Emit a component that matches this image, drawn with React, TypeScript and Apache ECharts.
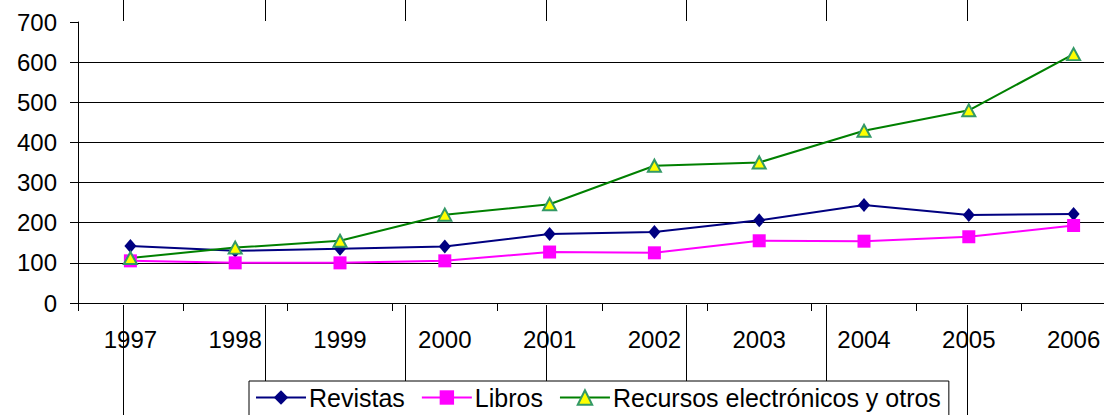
import React, { useEffect, useRef } from "react";
import * as echarts from "echarts";

const years = ["1997", "1998", "1999", "2000", "2001", "2002", "2003", "2004", "2005", "2006"];
const revistas = [142, 130, 135, 141, 172, 177, 206, 244, 219, 222];
const libros = [105, 100, 100, 105, 127, 125, 155, 154, 165, 193];
const recursos = [112, 138, 155, 220, 246, 342, 350, 429, 480, 620];
const yTicks = { min: 0, max: 700, interval: 100 };

const topLinesX = [123, 265, 405, 546, 686, 826, 967];
const FONT = "Liberation Sans, Arial, sans-serif";

export default function App() {
  const ref = useRef<HTMLDivElement>(null);
  useEffect(() => {
    if (!ref.current) return;
    const chart = echarts.init(ref.current, undefined, { renderer: "svg" });
    const graphics: any[] = [];
    topLinesX.forEach((x) => {
      graphics.push({ type: "line", z: 100, shape: { x1: x + 0.5, y1: 0, x2: x + 0.5, y2: 21 }, style: { stroke: "#000", lineWidth: 1 } });
      const long = x === 123 || x === 967;
      graphics.push({ type: "line", z: 100, shape: { x1: x + 0.5, y1: 305, x2: x + 0.5, y2: long ? 415 : 381 }, style: { stroke: "#000", lineWidth: 1 } });
    });
    chart.setOption({
      animation: false,
      textStyle: { fontFamily: FONT },
      grid: { left: 78, top: 22, height: 281, width: 1048, containLabel: false },
      legend: {
        left: 249,
        top: 381,
        padding: [4, 8, 12, 6],
        borderColor: "#000",
        borderWidth: 1,
        itemWidth: 50,
        itemHeight: 18,
        itemGap: 16,
        textStyle: { fontSize: 25, color: "#000", fontFamily: FONT, padding: [0, 0, 0, -2] },
        data: ["Revistas", "Libros", "Recursos electrónicos y otros"],
      },
      xAxis: {
        type: "category",
        data: years,
        boundaryGap: true,
        axisLine: { lineStyle: { color: "#000", width: 1 } },
        axisTick: { show: true, length: 8, lineStyle: { color: "#000" } },
        axisLabel: { fontSize: 24, color: "#000", margin: 24, fontFamily: FONT },
        splitLine: { show: false },
      },
      yAxis: {
        type: "value",
        min: yTicks.min,
        max: yTicks.max,
        interval: yTicks.interval,
        axisLine: { show: true, lineStyle: { color: "#000", width: 1 } },
        axisTick: { show: true, length: 8, lineStyle: { color: "#000" } },
        axisLabel: { fontSize: 24, color: "#000", margin: 21, fontFamily: FONT },
        splitLine: {
          show: true,
          lineStyle: { color: ["#000", "#000", "#000", "#000", "#000", "#000", "#000", "rgba(0,0,0,0)"], width: 1 },
        },
      },
      series: [
        {
          name: "Revistas",
          type: "line",
          data: revistas,
          symbol: "diamond",
          symbolSize: [12, 14],
          lineStyle: { color: "#000080", width: 2 },
          itemStyle: { color: "#000080" },
        },
        {
          name: "Libros",
          type: "line",
          data: libros,
          symbol: "rect",
          symbolSize: 13,
          lineStyle: { color: "#FF00FF", width: 2 },
          itemStyle: { color: "#FF00FF" },
        },
        {
          name: "Recursos electrónicos y otros",
          type: "line",
          data: recursos,
          symbol: "triangle",
          symbolSize: [13, 12],
          lineStyle: { color: "#008000", width: 2 },
          itemStyle: { color: "#FFFF00", borderColor: "#339966", borderWidth: 2 },
        },
      ],
      graphic: graphics,
    });
    return () => chart.dispose();
  }, []);
  return (
    <div style={{ position: "absolute", left: 0, top: 0, width: 1104, height: 415, overflow: "hidden" }}>
      <div ref={ref} style={{ position: "absolute", left: 0, top: 0, width: 1140, height: 415 }} />
    </div>
  );
}
